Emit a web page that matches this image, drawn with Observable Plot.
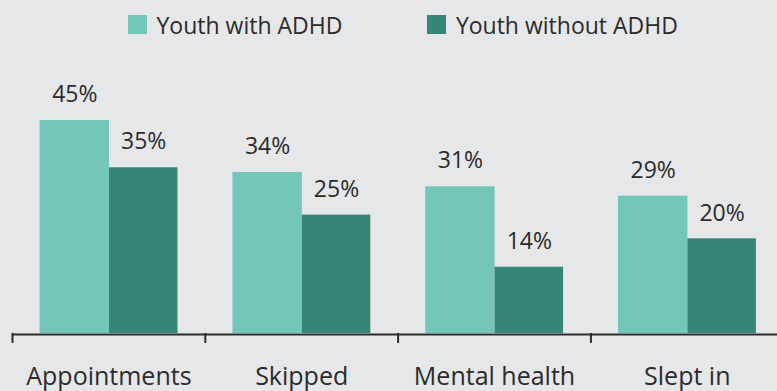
<!DOCTYPE html>
<html><head><meta charset="utf-8">
<script src="https://cdn.jsdelivr.net/npm/d3@7"></script>
<script src="https://cdn.jsdelivr.net/npm/@observablehq/plot@0.6"></script>
<style>
html,body{margin:0;padding:0;background:#e6e7e9;width:777px;height:391px;overflow:hidden;font-family:"Open Sans",sans-serif;}
#legend{height:49px;display:flex;align-items:center;padding-left:128px;color:#2b2b2b;font-size:23px;line-height:normal;}
.item{display:flex;align-items:center;margin-right:85px;white-space:nowrap}
.sw{width:19px;height:19px;margin-right:9.5px;flex:none}
#chart svg{display:block;overflow:visible}
</style></head><body>
<div id="legend"></div><div id="chart"></div>
<script>
const categories = ["Appointments", "Skipped", "Mental health", "Slept in"];
const seriesNames = ["Youth with ADHD", "Youth without ADHD"];
const withADHD = [45, 34, 31, 29];
const withoutADHD = [35, 25, 14, 20];
const seriesColors = ["#74c7b8", "#358677"];

const rows = categories.flatMap((c, i) => [
  {category: c, series: seriesNames[0], value: withADHD[i]},
  {category: c, series: seriesNames[1], value: withoutADHD[i]}
]);

const legend = document.getElementById("legend");
seriesNames.forEach((s, i) => {
  const it = document.createElement("div"); it.className = "item";
  const sw = document.createElement("span"); sw.className = "sw"; sw.style.background = seriesColors[i];
  const tx = document.createElement("span"); tx.textContent = s;
  it.appendChild(sw); it.appendChild(tx); legend.appendChild(it);
});

const W = 777, H = 342, base = 284, pxPerPct = 4.735;
const xRange = [12, 783.2];
const bw = (xRange[1] - xRange[0]) / categories.length;
const ink = "#2b2b2b";

const light = rows.filter(d => d.series === seriesNames[0]);
const dark = rows.filter(d => d.series === seriesNames[1]);

const chart = Plot.plot({
  width: W, height: H,
  marginLeft: 12, marginRight: 0, marginTop: base - 50 * pxPerPct, marginBottom: H - base,
  style: {background: "transparent", fontFamily: "Open Sans", overflow: "visible"},
  x: {type: "band", domain: categories, range: xRange, padding: 0, round: false, axis: null},
  y: {domain: [0, 50], range: [base, base - 50 * pxPerPct], axis: null},
  color: {domain: seriesNames, range: seriesColors},
  marks: [
    Plot.barY(light, {x: "category", y: "value", fill: "series", insetLeft: 27.6, insetRight: bw - 97}),
    Plot.barY(dark, {x: "category", y: "value", fill: "series", insetLeft: 97, insetRight: bw - 165.5}),
    Plot.text(light, {x: "category", y: "value", text: d => d.value + "%", dx: -34.1, dy: -18.3, lineAnchor: "bottom", fontSize: 23, fill: ink}),
    Plot.text(dark, {x: "category", y: "value", text: d => d.value + "%", dx: 34.8, dy: -18.3, lineAnchor: "bottom", fontSize: 23, fill: ink}),
    Plot.ruleY([0], {stroke: ink, strokeWidth: 2, dy: 1}),
    Plot.ruleX(categories, {x: d => d, dx: -bw / 2, stroke: ink, strokeWidth: 2, insetTop: 50 * pxPerPct, insetBottom: -10}),
    Plot.text(categories, {x: d => d, frameAnchor: "bottom", lineAnchor: "bottom", dy: 51, fontSize: 25, fill: ink})
  ]
});
document.getElementById("chart").appendChild(chart);
</script>
</body></html>
